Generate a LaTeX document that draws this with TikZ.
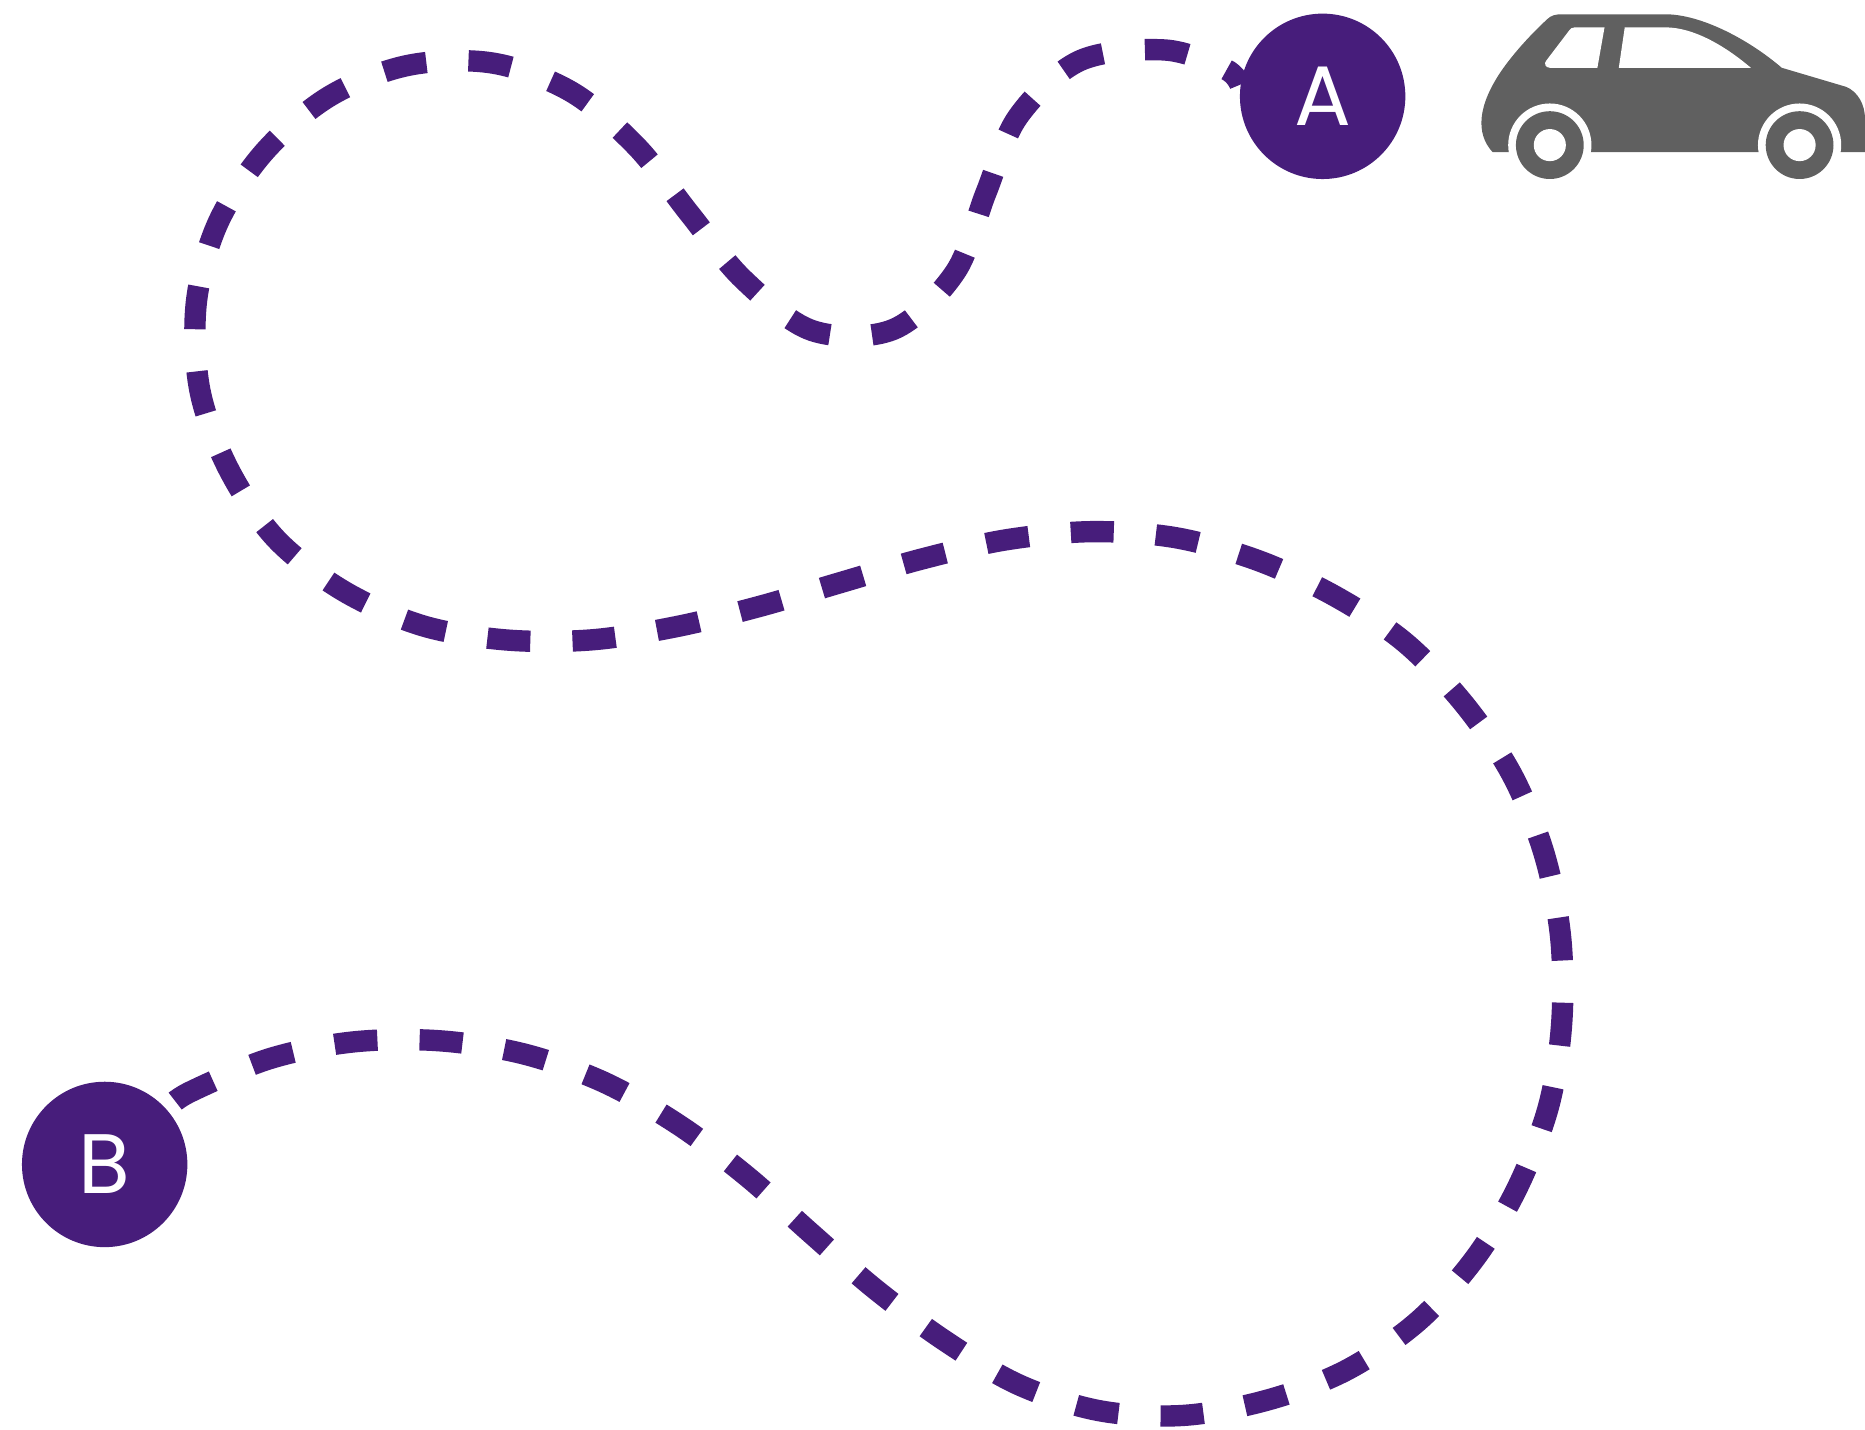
\documentclass[tikz,border=0pt]{standalone}
\usepackage{fontspec}
\setsansfont{Poppins}
\definecolor{routepurple}{HTML}{471D7B}
\definecolor{cargray}{HTML}{606060}
\tikzset{
  stopdot/.style={circle,fill=routepurple,text=white,minimum size=1.653cm,inner sep=0pt,font=\sffamily\fontsize{24}{24}\selectfont},
  route/.style={draw=routepurple,line width=6.07pt,dash pattern=on 0.43cm off 0.4215cm,dash phase=0.225cm},
}
\begin{document}
\begin{tikzpicture}[x=0.011894cm,y=-0.011894cm]
  \useasboundingbox (0,0) rectangle (1568,1202);
  \node[stopdot] (A) at (1112,81) {A};
  \node[stopdot] (B) at (88,979) {B};
  \draw[route] plot[smooth,tension=0.55] coordinates {
    (A.172) (1030,58) (979,42) (908,51) (856,98) (829,162) (803,229) (751,277) (683,278)
    (625,235) (580,180) (535,123) (480,77) (414,53) (343,55) (277,81) (222,128)
    (183,188) (165,255) (168,328) (192,394) (232,453) (289,497) (355,526) (425,538)
    (497,538) (568,527) (638,510) (706,490) (775,470) (845,454) (917,447) (988,452)
    (1057,471) (1122,501) (1181,540) (1231,592) (1271,651) (1298,717) (1312,787) (1313,860)
    (1302,930) (1276,998) (1240,1058) (1192,1111) (1132,1152) (1066,1177) (995,1190) (924,1186)
    (856,1164) (794,1127) (736,1084) (682,1037) (628,989) (571,946) (508,910) (440,886)
    (369,875) (297,876) (227,890) (160,918) (B.42)};
  % car
  \fill[cargray] (1255,128) .. controls (1240,112) and (1243,88) .. (1262,60)
    .. controls (1273,44) and (1288,28) .. (1301,16)
    .. controls (1304,13) and (1308,12) .. (1313,12) -- (1400,12)
    .. controls (1430,12) and (1470,33) .. (1498,57) -- (1552,73)
    .. controls (1562,77) and (1568,88) .. (1568,100) -- (1568,128) -- cycle;
  \fill[white] (1324,23) -- (1349,23) -- (1343,57) -- (1303,57)
    .. controls (1299,57) and (1298,53) .. (1300,51) -- (1319,26)
    .. controls (1320,24) and (1322,23) .. (1324,23) -- cycle;
  \fill[white] (1366,23) -- (1400,23) .. controls (1425,23) and (1452,40) .. (1472,57)
    -- (1361,57) -- cycle;
  \foreach \wx in {1303,1513} {
    \fill[white] (\wx,122) circle (35);
    \fill[cargray] (\wx,122) circle (28.5);
    \fill[white] (\wx,122) circle (13.5);
  }
\end{tikzpicture}
\end{document}
